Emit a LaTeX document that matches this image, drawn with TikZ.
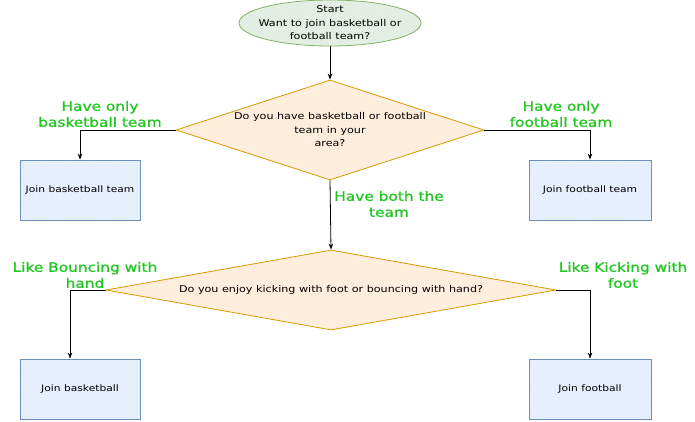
\documentclass[tikz,border=0pt]{standalone}
\usepackage{fontspec}
\setmainfont{DejaVu Sans}[FakeStretch=1.2]
\newfontfamily\choicefont{DejaVu Sans}[FakeStretch=1.2, FakeBold=1.2]
\usetikzlibrary{shapes.geometric,arrows.meta,patterns}
\definecolor{startline}{HTML}{82B366}
\definecolor{startfill}{HTML}{D5E8D4}
\definecolor{askline}{HTML}{D79B00}
\definecolor{askfill}{HTML}{FFE6CC}
\definecolor{joinline}{HTML}{6C8EBF}
\definecolor{joinfill}{HTML}{DAE8FC}
\definecolor{choice}{HTML}{22C522}
\begin{document}
\begin{tikzpicture}[x=1pt,y=-1pt,
    startnode/.style={ellipse, draw=startline, thick, align=center, inner xsep=-9pt, inner ysep=-4pt,
        minimum width=182pt, minimum height=46pt, font=\fontsize{9.3}{13.5}\selectfont,
        preaction={fill=startfill!50}, pattern=north east lines, pattern color=startfill},
    asknode/.style={diamond, draw=askline, thick, align=center, inner sep=0pt,
        font=\fontsize{9.3}{13.5}\selectfont,
        preaction={fill=askfill!50}, pattern=north east lines, pattern color=askfill},
    joinnode/.style={rectangle, draw=joinline, thick, align=center,
        minimum width=120pt, minimum height=60pt, font=\fontsize{8.9}{10}\selectfont,
        preaction={fill=joinfill!50}, pattern=north east lines, pattern color=joinfill},
    choicelabel/.style={text=choice, align=center, font=\choicefont\fontsize{12.8}{16}\selectfont},
    link/.style={-{Stealth[length=6pt]}, thick}]
    \useasboundingbox (0,0) rectangle (695,421);

    \node[startnode] (start) at (330,23) {Start\\Want to join basketball or\\football team?};
    \node[asknode, minimum width=308pt, minimum height=100pt, aspect=3.08] (haveteam) at (330,130)
        {Do you have basketball or football\\team in your\\area?};
    \node[joinnode] (joinbteam) at (80,190) {Join basketball team};
    \node[joinnode, minimum width=122pt] (joinfteam) at (590,190) {Join football team};
    \node[asknode, minimum width=450pt, minimum height=80pt, aspect=5.62] (enjoy) at (331,290)
        {Do you enjoy kicking with foot or bouncing with hand?};
    \node[joinnode] (joinb) at (80,389) {Join basketball};
    \node[joinnode, minimum width=122pt] (joinf) at (590,389) {Join football};

    \node[choicelabel] (onlyb) at (100,114) {Have only\\basketball team};
    \node[choicelabel] (onlyf) at (561,114) {Have only\\football team};
    \node[choicelabel] (both) at (389,204) {Have both the\\team};
    \node[choicelabel] (bounce) at (85,275) {Like Bouncing with\\hand};
    \node[choicelabel] (kick) at (623,275) {Like Kicking with\\foot};

    \draw[link] (start) -- (haveteam);
    \draw[link] (haveteam.west) -| (joinbteam.north);
    \draw[link] (haveteam.east) -| (joinfteam.north);
    \draw[link] (haveteam.south) -- (enjoy.north);
    \draw[link] (enjoy.west) -| ([xshift=-10pt]joinb.north);
    \draw[link] (enjoy.east) -| (joinf.north);

\end{tikzpicture}
\end{document}
